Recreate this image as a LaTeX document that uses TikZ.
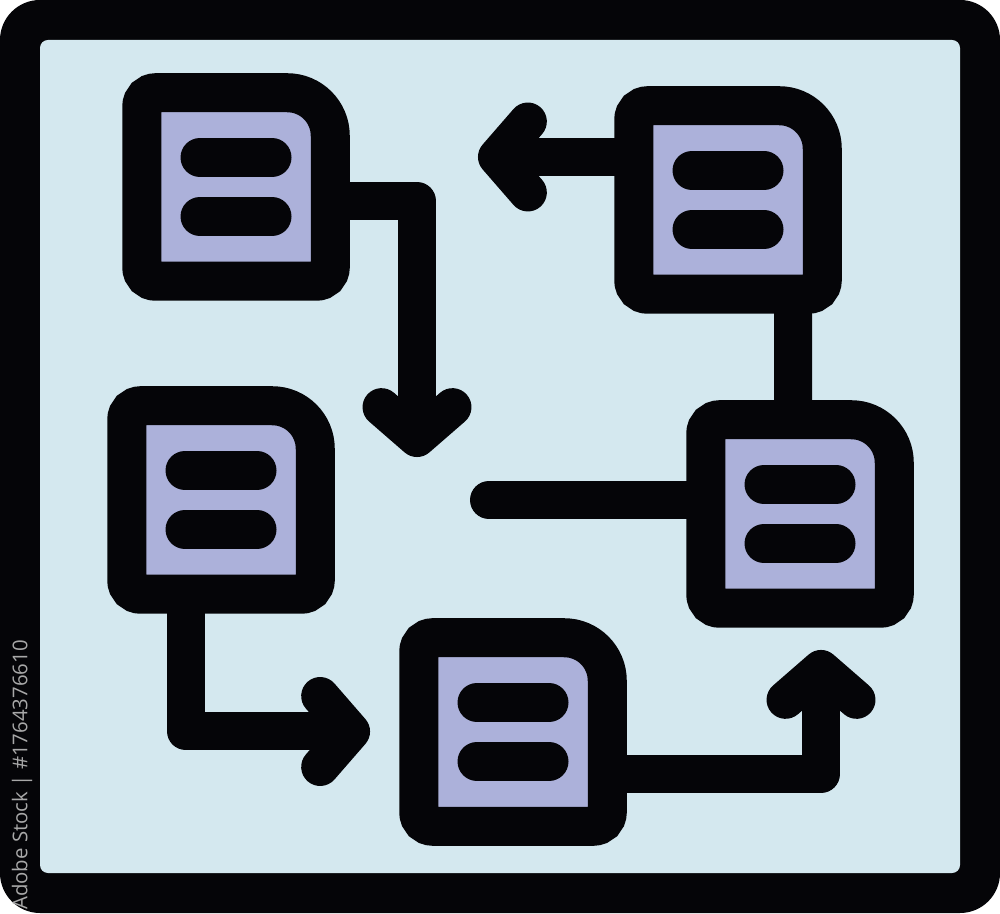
\documentclass[tikz,border=0pt]{standalone}
\usepackage{fontspec}
\setsansfont{Open Sans}
\usetikzlibrary{calc,backgrounds}
\definecolor{paper}{HTML}{D4E8EF}
\definecolor{lavender}{HTML}{ACB1DA}
\definecolor{ink}{HTML}{050508}
\definecolor{stamp}{HTML}{A8A8A8}

\begin{document}
\begin{tikzpicture}[
    srv/.style={rectangle,minimum size=1.885cm,inner sep=0pt,fill=lavender},
    wall/.style={ink,line width=0.39cm},
    bar/.style={ink,line width=0.39cm,line cap=round},
    wire/.style={ink,line width=0.38cm,line join=round},
    chev/.style={wire,line cap=round}]
    \useasboundingbox (0,0) rectangle (10,9.13);
    \begin{scope}[on background layer]
    \fill[ink,rounded corners=0.4cm] (0,0) rectangle (10,9.13);
    \fill[paper,rounded corners=0.08cm] (0.4,0.4) rectangle (9.6,8.73);
    \end{scope}
    \node[rotate=90,text=stamp,font=\sffamily\fontsize{5.8}{7}\selectfont] (stockid) at (0.22,1.38) {Adobe Stock | \#1764376610};
    \node[srv] (srvA) at (2.36,7.26) {};
    \node[srv] (srvB) at (7.28,7.13) {};
    \node[srv] (srvC) at (2.21,4.13) {};
    \node[srv] (srvD) at (8.00,3.99) {};
    \node[srv] (srvE) at (5.13,1.81) {};
    \foreach \n in {srvA,srvB,srvC,srvD,srvE} {
        \begin{scope}[shift={(\n.center)}]
        \draw[wall] (-0.9425,0) -- (-0.9425,0.8025) arc[start angle=180,end angle=90,radius=0.14]
            -- (0.5125,0.9425) arc[start angle=90,end angle=0,radius=0.43]
            -- (0.9425,-0.8025) arc[start angle=0,end angle=-90,radius=0.14]
            -- (-0.8025,-0.9425) arc[start angle=270,end angle=180,radius=0.14] -- cycle;
        \draw[bar] (-0.36,0.295) -- (0.36,0.295);
        \draw[bar] (-0.36,-0.295) -- (0.36,-0.295);
        \end{scope}
    }
    \begin{scope}[on background layer]
    \coordinate (tipA) at (4.17,4.75);
    \coordinate (tipB) at (4.97,7.56);
    \coordinate (tipC) at (3.51,1.815);
    \coordinate (tipE) at (8.21,2.44);
    \coordinate (endD) at (4.89,4.13);
    \draw[wire] ([yshift=-0.14cm]srvA.east) -| (tipA);
    \draw[wire] ([yshift=0.43cm]srvB.west) -- (tipB);
    \draw[wire] ([xshift=-0.35cm]srvC.south) |- (tipC);
    \draw[wire] ([yshift=-0.42cm]srvE.east) -| (tipE);
    \draw[wire,line cap=round] ([yshift=0.14cm]srvD.west) -- (endD);
    \draw[wire] ([xshift=0.65cm]srvB.south) -- ([xshift=-0.07cm]srvD.north);
    \foreach \t/\a in {tipA/90,tipB/0,tipC/180,tipE/270}
        \draw[chev] ([shift={(\a-49:0.47)}]\t) -- (\t) -- ([shift={(\a+49:0.47)}]\t);
    \end{scope}
\end{tikzpicture}
\end{document}
